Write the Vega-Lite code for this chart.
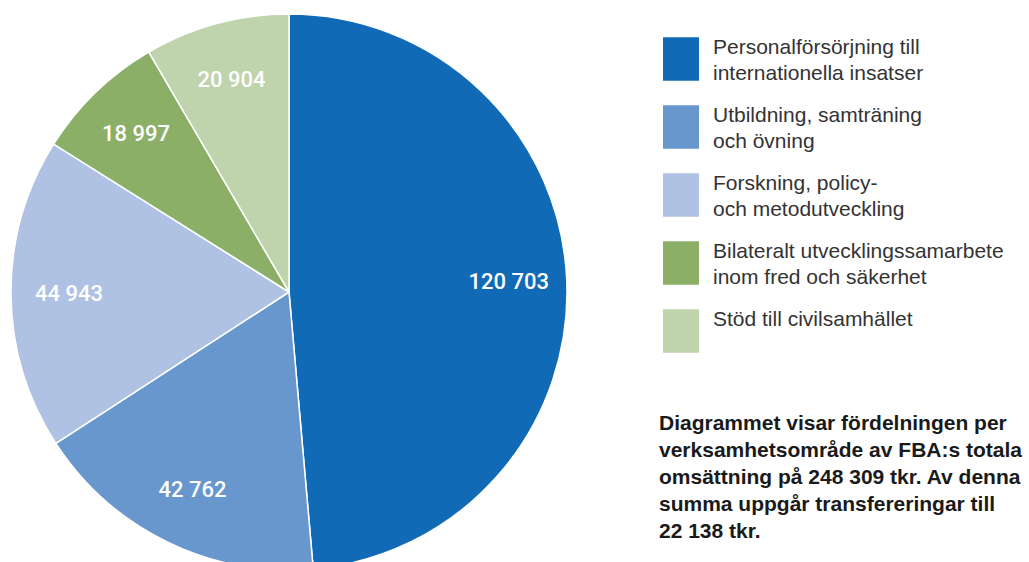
{
  "$schema": "https://vega.github.io/schema/vega-lite/v6.json",
  "autosize": "none",
  "width": 578,
  "height": 562,
  "padding": {"left": 0, "top": 0, "right": 451, "bottom": 0},
  "background": "white",
  "config": {
    "view": {"stroke": null},
    "style": {"guide-label": {"lineHeight": 26, "dy": -22}},
    "locale": {"number": {"decimal": ",", "thousands": " ", "grouping": [3], "currency": ["", " kr"]}}
  },
  "data": {
    "values": [
      {"nr": 1, "omrade": "Personalförsörjning till\ninternationella insatser", "tkr": 120703},
      {"nr": 2, "omrade": "Utbildning, samträning\noch övning", "tkr": 42762},
      {"nr": 3, "omrade": "Forskning, policy-\noch metodutveckling", "tkr": 44943},
      {"nr": 4, "omrade": "Bilateralt utvecklingssamarbete\ninom fred och säkerhet", "tkr": 18997},
      {"nr": 5, "omrade": "Stöd till civilsamhället\n", "tkr": 20904}
    ]
  },
  "encoding": {
    "theta": {"field": "tkr", "type": "quantitative", "stack": true},
    "order": {"field": "nr", "type": "ordinal"}
  },
  "layer": [
    {
      "mark": {"type": "arc", "outerRadius": 278, "stroke": "white", "strokeWidth": 1.5, "yOffset": 11},
      "encoding": {
        "color": {
          "field": "omrade",
          "type": "nominal",
          "scale": {
            "domain": [
              "Personalförsörjning till\ninternationella insatser",
              "Utbildning, samträning\noch övning",
              "Forskning, policy-\noch metodutveckling",
              "Bilateralt utvecklingssamarbete\ninom fred och säkerhet",
              "Stöd till civilsamhället\n"
            ],
            "range": ["#106AB5", "#6897CD", "#AFC2E3", "#8BAF67", "#BFD3AD"]
          },
          "legend": {
            "orient": "none",
            "legendX": 659,
            "legendY": 37,
            "padding": 0,
            "title": [
              "Diagrammet visar fördelningen per",
              "verksamhetsområde av FBA:s totala",
              "omsättning på 248 309 tkr. Av denna",
              "summa uppgår transfereringar till",
              "22 138 tkr."
            ],
            "titleOrient": "bottom",
            "titleAnchor": "start",
            "titleAlign": "left",
            "titleFont": "Liberation Sans",
            "titleFontSize": 21,
            "titleFontWeight": "bold",
            "titleColor": "#1a1a1a",
            "titleLineHeight": 27,
            "titlePadding": 57,
            "titleLimit": 500,
            "labelExpr": "split(datum.label, '\\n')",
            "labelFont": "Liberation Sans",
            "labelFontSize": 21,
            "labelColor": "#333333",
            "labelLimit": 500,
            "labelOffset": 10,
            "labelBaseline": "top",
            "symbolType": "M-0.828,-1H0.828V1H-0.828Z",
            "symbolSize": 1892,
            "symbolStrokeWidth": 0,
            "symbolOpacity": 1,
            "rowPadding": 21
          }
        }
      }
    },
    {
      "mark": {"type": "text", "radius": 220, "yOffset": 11, "fill": "white", "font": "Roboto", "fontWeight": 500, "fontSize": 22, "align": "center", "baseline": "middle"},
      "encoding": {
        "text": {"field": "tkr", "type": "quantitative", "format": ",d"}
      }
    }
  ]
}
